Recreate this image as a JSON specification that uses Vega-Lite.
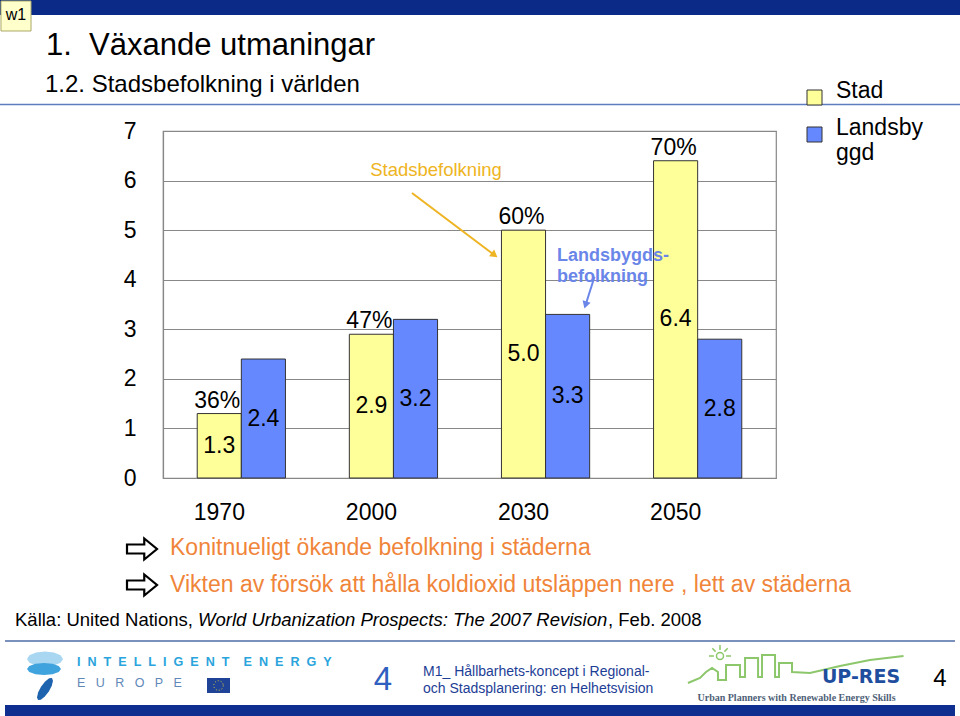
{
"$schema": "https://vega.github.io/schema/vega-lite/v6.json",
"width": 613, "height": 347,
"autosize": {"type": "none"},
"padding": {"left": 163, "top": 131, "right": 184, "bottom": 238},
"background": "#ffffff",
"config": {"font": "Liberation Sans", "view": {"stroke": "#888888", "strokeWidth": 1.2}},
"data": {"values": [
 {"year": "1970", "serie": "Stad", "value": 1.3, "pct": "36%"},
 {"year": "1970", "serie": "Landsbygd", "value": 2.4, "pct": ""},
 {"year": "2000", "serie": "Stad", "value": 2.9, "pct": "47%"},
 {"year": "2000", "serie": "Landsbygd", "value": 3.2, "pct": ""},
 {"year": "2030", "serie": "Stad", "value": 5.0, "pct": "60%"},
 {"year": "2030", "serie": "Landsbygd", "value": 3.3, "pct": ""},
 {"year": "2050", "serie": "Stad", "value": 6.4, "pct": "70%"},
 {"year": "2050", "serie": "Landsbygd", "value": 2.8, "pct": ""}
]},
"resolve": {"scale": {"x": "independent", "y": "independent"}},
"layer": [
 {"mark": {"type": "bar", "stroke": "#333333", "strokeWidth": 1},
  "encoding": {
   "x": {"field": "year", "type": "nominal", "scale": {"type": "band", "domain": ["1970", "2000", "2030", "2050"], "paddingInner": 0.42, "paddingOuter": 0.225},
         "axis": {"title": null, "labelAngle": 0, "ticks": false, "tickSize": 0, "labelPadding": 23, "labelOffset": -22, "labelFontSize": 23, "labelColor": "#000000", "domainColor": "#888888", "domainWidth": 1.2, "grid": false}},
   "xOffset": {"field": "serie", "type": "nominal", "scale": {"domain": ["Stad", "Landsbygd"], "paddingInner": 0, "paddingOuter": 0}},
   "y": {"field": "value", "type": "quantitative", "scale": {"domain": [0, 7], "nice": false},
         "axis": {"title": null, "values": [0, 1, 2, 3, 4, 5, 6, 7], "ticks": false, "tickSize": 0, "labelPadding": 27, "labelFontSize": 23, "labelColor": "#000000", "domainColor": "#888888", "domainWidth": 1.2, "grid": true, "gridColor": "#888888", "gridWidth": 1.2, "gridOpacity": 1}},
   "color": {"field": "serie", "type": "nominal", "scale": {"domain": ["Stad", "Landsbygd"], "range": ["#FFFF99", "#6688FF"]},
         "legend": {"title": null, "orient": "none", "legendX": 640, "legendY": -45, "gridAlign": "none", "symbolType": "square", "symbolSize": 225, "symbolStrokeWidth": 1, "labelFontSize": 23, "labelColor": "#000000", "labelOffset": 10, "rowPadding": 9, "labelLimit": 200, "labelBaseline": "alphabetic",
                    "labelExpr": "datum.label == 'Landsbygd' ? ['Landsby', 'ggd'] : datum.label",
                    "encode": {"labels": {"update": {"dy": {"value": 6}, "lineHeight": {"value": 26}}}}}}
  }},
 {"mark": {"type": "text", "fontSize": 23, "color": "#000000", "baseline": "middle"},
  "encoding": {
   "x": {"field": "year", "type": "nominal", "scale": {"type": "band", "domain": ["1970", "2000", "2030", "2050"], "paddingInner": 0.42, "paddingOuter": 0.225}, "axis": null},
   "xOffset": {"field": "serie", "type": "nominal", "scale": {"domain": ["Stad", "Landsbygd"], "paddingInner": 0, "paddingOuter": 0}},
   "y": {"field": "value", "type": "quantitative", "scale": {"domain": [0, 14], "nice": false}, "axis": null},
   "text": {"field": "value", "type": "quantitative", "format": ".1f"}
  }},
 {"transform": [{"filter": "datum.serie == 'Stad'"}],
  "mark": {"type": "text", "fontSize": 23, "color": "#000000", "baseline": "alphabetic", "dy": -6, "dx": -2},
  "encoding": {
   "x": {"field": "year", "type": "nominal", "scale": {"type": "band", "domain": ["1970", "2000", "2030", "2050"], "paddingInner": 0.42, "paddingOuter": 0.225}, "axis": null},
   "xOffset": {"field": "serie", "type": "nominal", "scale": {"domain": ["Stad", "Landsbygd"], "paddingInner": 0, "paddingOuter": 0}},
   "y": {"field": "value", "type": "quantitative", "scale": {"domain": [0, 7], "nice": false}, "axis": null},
   "text": {"field": "pct", "type": "nominal"}
  }},

 {"data": {"values": [{}]}, "mark": {"type": "rect", "fill": "#0B2A88"},
  "encoding": {"x": {"datum": -1.5636, "type": "quantitative", "scale": {"domain": [-0.5, 3.5], "nice": false, "zero": false}, "axis": null}, "x2": {"datum": 4.7007},
               "y": {"datum": 9.643, "type": "quantitative", "scale": {"domain": [0, 7], "nice": false, "zero": false}, "axis": null}, "y2": {"datum": 9.34}}},
 {"data": {"values": [{}]}, "mark": {"type": "rule", "stroke": "#5D7DBF", "strokeWidth": 1.5},
  "encoding": {"x": {"datum": -1.5636, "type": "quantitative", "scale": {"domain": [-0.5, 3.5], "nice": false, "zero": false}, "axis": null}, "x2": {"datum": 4.7007},
               "y": {"datum": 7.5346, "type": "quantitative", "scale": {"domain": [0, 7], "nice": false, "zero": false}, "axis": null}, "y2": {"datum": 7.5346}}},
 {"data": {"values": [{}]}, "mark": {"type": "rect", "fill": "#FFFFCC", "stroke": "#A8A86A", "strokeWidth": 1},
  "encoding": {"x": {"datum": -1.5571, "type": "quantitative", "scale": {"domain": [-0.5, 3.5], "nice": false, "zero": false}, "axis": null}, "x2": {"datum": -1.3613},
               "y": {"datum": 9.6227, "type": "quantitative", "scale": {"domain": [0, 7], "nice": false, "zero": false}, "axis": null}, "y2": {"datum": 9.0174}}},
 {"data": {"values": [{}]}, "mark": {"type": "text", "text": "w1", "fontSize": 16, "align": "center", "baseline": "middle", "color": "#000000"},
  "encoding": {"x": {"datum": -1.4592, "type": "quantitative", "scale": {"domain": [-0.5, 3.5], "nice": false, "zero": false}, "axis": null},
               "y": {"datum": 9.34, "type": "quantitative", "scale": {"domain": [0, 7], "nice": false, "zero": false}, "axis": null}}},
 {"data": {"values": [{}]}, "mark": {"type": "text", "text": "1.\u00a0\u00a0Växande utmaningar", "fontSize": 31, "align": "left", "baseline": "alphabetic", "color": "#000000"},
  "encoding": {"x": {"datum": -1.2635, "type": "quantitative", "scale": {"domain": [-0.5, 3.5], "nice": false, "zero": false}, "axis": null},
               "y": {"datum": 8.533, "type": "quantitative", "scale": {"domain": [0, 7], "nice": false, "zero": false}, "axis": null}}},
 {"data": {"values": [{}]}, "mark": {"type": "text", "text": "1.2. Stadsbefolkning i världen", "fontSize": 24, "align": "left", "baseline": "alphabetic", "color": "#000000"},
  "encoding": {"x": {"datum": -1.27, "type": "quantitative", "scale": {"domain": [-0.5, 3.5], "nice": false, "zero": false}, "axis": null},
               "y": {"datum": 7.787, "type": "quantitative", "scale": {"domain": [0, 7], "nice": false, "zero": false}, "axis": null}}},

 {"data": {"values": [{}]}, "mark": {"type": "text", "text": "Stadsbefolkning", "fontSize": 18.5, "align": "center", "baseline": "middle", "color": "#EEB422"},
  "encoding": {"x": {"datum": 1.2814, "type": "quantitative", "scale": {"domain": [-0.5, 3.5], "nice": false, "zero": false}, "axis": null},
               "y": {"datum": 6.213, "type": "quantitative", "scale": {"domain": [0, 7], "nice": false, "zero": false}, "axis": null}}},
 {"data": {"values": [{}]}, "mark": {"type": "rule", "stroke": "#EEB422", "strokeWidth": 2},
  "encoding": {"x": {"datum": 1.1248, "type": "quantitative", "scale": {"domain": [-0.5, 3.5], "nice": false, "zero": false}, "axis": null}, "x2": {"datum": 1.6533},
               "y": {"datum": 5.749, "type": "quantitative", "scale": {"domain": [0, 7], "nice": false, "zero": false}, "axis": null}, "y2": {"datum": 4.5188}}},
 {"data": {"values": [{}]}, "mark": {"type": "point", "shape": "triangle-up", "filled": true, "color": "#EEB422", "size": 70, "angle": 127, "opacity": 1},
  "encoding": {"x": {"datum": 1.6631, "type": "quantitative", "scale": {"domain": [-0.5, 3.5], "nice": false, "zero": false}, "axis": null},
               "y": {"datum": 4.4986, "type": "quantitative", "scale": {"domain": [0, 7], "nice": false, "zero": false}, "axis": null}}},
 {"data": {"values": [{}]}, "mark": {"type": "text", "text": ["Landsbygds-", "befolkning"], "fontSize": 18, "fontWeight": "bold", "lineHeight": 21, "align": "left", "baseline": "middle", "color": "#6A86E8"},
  "encoding": {"x": {"datum": 2.071, "type": "quantitative", "scale": {"domain": [-0.5, 3.5], "nice": false, "zero": false}, "axis": null},
               "y": {"datum": 4.4785, "type": "quantitative", "scale": {"domain": [0, 7], "nice": false, "zero": false}, "axis": null}}},
 {"data": {"values": [{}]}, "mark": {"type": "rule", "stroke": "#6A86E8", "strokeWidth": 2},
  "encoding": {"x": {"datum": 2.3157, "type": "quantitative", "scale": {"domain": [-0.5, 3.5], "nice": false, "zero": false}, "axis": null}, "x2": {"datum": 2.2635},
               "y": {"datum": 4.0609, "type": "quantitative", "scale": {"domain": [0, 7], "nice": false, "zero": false}, "axis": null}, "y2": {"datum": 3.5505}}},
 {"data": {"values": [{}]}, "mark": {"type": "point", "shape": "triangle-up", "filled": true, "color": "#6A86E8", "size": 70, "angle": 197.5, "opacity": 1},
  "encoding": {"x": {"datum": 2.2569, "type": "quantitative", "scale": {"domain": [-0.5, 3.5], "nice": false, "zero": false}, "axis": null},
               "y": {"datum": 3.49, "type": "quantitative", "scale": {"domain": [0, 7], "nice": false, "zero": false}, "axis": null}}},

 {"data": {"values": [{}]}, "mark": {"type": "point", "shape": "M-1,-0.3 L0.15,-0.3 L0.15,-0.7 L1,0 L0.15,0.7 L0.15,0.3 L-1,0.3 Z", "size": 900, "filled": true, "fill": "#ffffff", "stroke": "#000000", "strokeWidth": 2.2, "opacity": 1},
  "encoding": {"x": {"datum": -0.637, "type": "quantitative", "scale": {"domain": [-0.5, 3.5], "nice": false, "zero": false}, "axis": null},
               "y": {"datum": -1.4323, "type": "quantitative", "scale": {"domain": [0, 7], "nice": false, "zero": false}, "axis": null}}},
 {"data": {"values": [{}]}, "mark": {"type": "point", "shape": "M-1,-0.3 L0.15,-0.3 L0.15,-0.7 L1,0 L0.15,0.7 L0.15,0.3 L-1,0.3 Z", "size": 900, "filled": true, "fill": "#ffffff", "stroke": "#000000", "strokeWidth": 2.2, "opacity": 1},
  "encoding": {"x": {"datum": -0.637, "type": "quantitative", "scale": {"domain": [-0.5, 3.5], "nice": false, "zero": false}, "axis": null},
               "y": {"datum": -2.1585, "type": "quantitative", "scale": {"domain": [0, 7], "nice": false, "zero": false}, "axis": null}}},
 {"data": {"values": [{}]}, "mark": {"type": "text", "text": "Konitnueligt ökande befolkning i städerna", "fontSize": 23, "align": "left", "baseline": "middle", "color": "#F0853A"},
  "encoding": {"x": {"datum": -0.4543, "type": "quantitative", "scale": {"domain": [-0.5, 3.5], "nice": false, "zero": false}, "axis": null},
               "y": {"datum": -1.412, "type": "quantitative", "scale": {"domain": [0, 7], "nice": false, "zero": false}, "axis": null}}},
 {"data": {"values": [{}]}, "mark": {"type": "text", "text": "Vikten av försök att hålla koldioxid utsläppen nere , lett av städerna", "fontSize": 23, "align": "left", "baseline": "middle", "color": "#F0853A"},
  "encoding": {"x": {"datum": -0.4543, "type": "quantitative", "scale": {"domain": [-0.5, 3.5], "nice": false, "zero": false}, "axis": null},
               "y": {"datum": -2.1585, "type": "quantitative", "scale": {"domain": [0, 7], "nice": false, "zero": false}, "axis": null}}},
 {"data": {"values": [{}]}, "mark": {"type": "text", "text": "Källa: United Nations,", "fontSize": 18.5, "align": "left", "baseline": "middle", "color": "#000000"},
  "encoding": {"x": {"datum": -1.4657, "type": "quantitative", "scale": {"domain": [-0.5, 3.5], "nice": false, "zero": false}, "axis": null},
               "y": {"datum": -2.8646, "type": "quantitative", "scale": {"domain": [0, 7], "nice": false, "zero": false}, "axis": null}}},
 {"data": {"values": [{}]}, "mark": {"type": "text", "text": "World Urbanization Prospects: The 2007 Revision", "fontSize": 18.5, "fontStyle": "italic", "align": "left", "baseline": "middle", "color": "#000000"},
  "encoding": {"x": {"datum": -0.2716, "type": "quantitative", "scale": {"domain": [-0.5, 3.5], "nice": false, "zero": false}, "axis": null},
               "y": {"datum": -2.8646, "type": "quantitative", "scale": {"domain": [0, 7], "nice": false, "zero": false}, "axis": null}}},
 {"data": {"values": [{}]}, "mark": {"type": "text", "text": ", Feb. 2008", "fontSize": 18.5, "align": "left", "baseline": "middle", "color": "#000000"},
  "encoding": {"x": {"datum": 2.4038, "type": "quantitative", "scale": {"domain": [-0.5, 3.5], "nice": false, "zero": false}, "axis": null},
               "y": {"datum": -2.8646, "type": "quantitative", "scale": {"domain": [0, 7], "nice": false, "zero": false}, "axis": null}}},

 {"data": {"values": [{}]}, "mark": {"type": "rule", "stroke": "#4E6CA8", "strokeWidth": 1.5},
  "encoding": {"x": {"datum": -1.531, "type": "quantitative", "scale": {"domain": [-0.5, 3.5], "nice": false, "zero": false}, "axis": null}, "x2": {"datum": 4.668},
               "y": {"datum": -3.2882, "type": "quantitative", "scale": {"domain": [0, 7], "nice": false, "zero": false}, "axis": null}, "y2": {"datum": -3.2882}}},
 {"data": {"values": [{}]}, "mark": {"type": "rect", "fill": "#0E2F8F"},
  "encoding": {"x": {"datum": -1.531, "type": "quantitative", "scale": {"domain": [-0.5, 3.5], "nice": false, "zero": false}, "axis": null}, "x2": {"datum": 4.668},
               "y": {"datum": -4.5793, "type": "quantitative", "scale": {"domain": [0, 7], "nice": false, "zero": false}, "axis": null}, "y2": {"datum": -4.8012}}},
 {"data": {"values": [{}]}, "mark": {"type": "point", "shape": "M1,0 L0.866,0.21 L0.5,0.364 L0,0.42 L-0.5,0.364 L-0.866,0.21 L-1,0 L-0.866,-0.21 L-0.5,-0.364 L0,-0.42 L0.5,-0.364 L0.866,-0.21 Z", "size": 1296, "filled": true, "color": "#A9D7F2", "opacity": 1},
  "encoding": {"x": {"datum": -1.27, "type": "quantitative", "scale": {"domain": [-0.5, 3.5], "nice": false, "zero": false}, "axis": null},
               "y": {"datum": -3.6513, "type": "quantitative", "scale": {"domain": [0, 7], "nice": false, "zero": false}, "axis": null}}},
 {"data": {"values": [{}]}, "mark": {"type": "point", "shape": "M1,0 L0.866,0.18 L0.5,0.312 L0,0.36 L-0.5,0.312 L-0.866,0.18 L-1,0 L-0.866,-0.18 L-0.5,-0.312 L0,-0.36 L0.5,-0.312 L0.866,-0.18 Z", "size": 1156, "filled": true, "color": "#3FA3DD", "opacity": 1},
  "encoding": {"x": {"datum": -1.2765, "type": "quantitative", "scale": {"domain": [-0.5, 3.5], "nice": false, "zero": false}, "axis": null},
               "y": {"datum": -3.853, "type": "quantitative", "scale": {"domain": [0, 7], "nice": false, "zero": false}, "axis": null}}},
 {"data": {"values": [{}]}, "mark": {"type": "point", "shape": "M1,0 L0.866,0.175 L0.5,0.303 L0,0.35 L-0.5,0.303 L-0.866,0.175 L-1,0 L-0.866,-0.175 L-0.5,-0.303 L0,-0.35 L0.5,-0.303 L0.866,-0.175 Z", "size": 676, "angle": 122.5, "filled": true, "color": "#1E63AE", "opacity": 1},
  "encoding": {"x": {"datum": -1.27, "type": "quantitative", "scale": {"domain": [-0.5, 3.5], "nice": false, "zero": false}, "axis": null},
               "y": {"datum": -4.2565, "type": "quantitative", "scale": {"domain": [0, 7], "nice": false, "zero": false}, "axis": null}}},
 {"data": {"values": [{}]}, "mark": {"type": "text", "text": "I\u00a0\u00a0N\u00a0\u00a0T\u00a0\u00a0E\u00a0\u00a0L\u00a0\u00a0L\u00a0\u00a0I\u00a0\u00a0G\u00a0\u00a0E\u00a0\u00a0N\u00a0\u00a0T\u00a0\u00a0\u00a0\u00a0E\u00a0\u00a0N\u00a0\u00a0E\u00a0\u00a0R\u00a0\u00a0G\u00a0\u00a0Y", "fontSize": 12.6, "fontWeight": "bold", "align": "left", "baseline": "middle", "color": "#2AA4DC"},
  "encoding": {"x": {"datum": -1.0612, "type": "quantitative", "scale": {"domain": [-0.5, 3.5], "nice": false, "zero": false}, "axis": null},
               "y": {"datum": -3.7118, "type": "quantitative", "scale": {"domain": [0, 7], "nice": false, "zero": false}, "axis": null}}},
 {"data": {"values": [{}]}, "mark": {"type": "text", "text": "E\u00a0\u00a0\u00a0U\u00a0\u00a0\u00a0R\u00a0\u00a0\u00a0O\u00a0\u00a0\u00a0P\u00a0\u00a0\u00a0E", "fontSize": 12.5, "align": "left", "baseline": "middle", "color": "#5F88B8"},
  "encoding": {"x": {"datum": -1.0612, "type": "quantitative", "scale": {"domain": [-0.5, 3.5], "nice": false, "zero": false}, "axis": null},
               "y": {"datum": -4.1355, "type": "quantitative", "scale": {"domain": [0, 7], "nice": false, "zero": false}, "axis": null}}},
 {"data": {"values": [{}]}, "mark": {"type": "rect", "fill": "#1F4396"},
  "encoding": {"x": {"datum": -0.2129, "type": "quantitative", "scale": {"domain": [-0.5, 3.5], "nice": false, "zero": false}, "axis": null}, "x2": {"datum": -0.0628},
               "y": {"datum": -4.0346, "type": "quantitative", "scale": {"domain": [0, 7], "nice": false, "zero": false}, "axis": null}, "y2": {"datum": -4.3372}}},
 {"data": {"values": [{}]}, "mark": {"type": "point", "shape": "circle", "size": 90, "filled": false, "stroke": "#E5CF3C", "strokeWidth": 1, "strokeDash": [1, 2], "opacity": 1},
  "encoding": {"x": {"datum": -0.1378, "type": "quantitative", "scale": {"domain": [-0.5, 3.5], "nice": false, "zero": false}, "axis": null},
               "y": {"datum": -4.186, "type": "quantitative", "scale": {"domain": [0, 7], "nice": false, "zero": false}, "axis": null}}},
 {"data": {"values": [{}]}, "mark": {"type": "text", "text": "4", "fontSize": 33, "align": "center", "baseline": "middle", "color": "#2F5FBF"},
  "encoding": {"x": {"datum": 0.9356, "type": "quantitative", "scale": {"domain": [-0.5, 3.5], "nice": false, "zero": false}, "axis": null},
               "y": {"datum": -4.075, "type": "quantitative", "scale": {"domain": [0, 7], "nice": false, "zero": false}, "axis": null}}},
 {"data": {"values": [{}]}, "mark": {"type": "text", "text": ["M1_ Hållbarhets-koncept i Regional-", "och Stadsplanering: en Helhetsvision"], "fontSize": 14, "lineHeight": 17, "align": "left", "baseline": "middle", "color": "#1D3E96"},
  "encoding": {"x": {"datum": 1.1966, "type": "quantitative", "scale": {"domain": [-0.5, 3.5], "nice": false, "zero": false}, "axis": null},
               "y": {"datum": -3.9035, "type": "quantitative", "scale": {"domain": [0, 7], "nice": false, "zero": false}, "axis": null}}},
 {"data": {"values": [{}]}, "mark": {"type": "point", "shape": "M-1.005,0.121 L-0.893,0.074 L-0.837,0.019 L-0.781,-0.019 L-0.726,0.019 L-0.726,0.093 L-0.651,0.093 L-0.651,-0.047 L-0.521,-0.047 L-0.521,0.065 L-0.474,0.065 L-0.474,-0.112 L-0.353,-0.112 L-0.353,0.065 L-0.316,0.065 L-0.316,-0.14 L-0.195,-0.14 L-0.195,0.065 L-0.158,0.065 L-0.158,-0.065 L-0.037,-0.065 L-0.037,0.019 L0.13,0.028 L0.409,-0.037 L0.688,-0.093 L1,-0.13", "size": 46225, "filled": false, "stroke": "#8DC76B", "strokeWidth": 2, "opacity": 1},
  "encoding": {"x": {"datum": 3.6305, "type": "quantitative", "scale": {"domain": [-0.5, 3.5], "nice": false, "zero": false}, "axis": null},
               "y": {"datum": -3.8732, "type": "quantitative", "scale": {"domain": [0, 7], "nice": false, "zero": false}, "axis": null}}},
 {"data": {"values": [{}]}, "mark": {"type": "point", "shape": "circle", "size": 50, "filled": false, "stroke": "#8DC76B", "strokeWidth": 1.5, "opacity": 1},
  "encoding": {"x": {"datum": 3.1346, "type": "quantitative", "scale": {"domain": [-0.5, 3.5], "nice": false, "zero": false}, "axis": null},
               "y": {"datum": -3.5908, "type": "quantitative", "scale": {"domain": [0, 7], "nice": false, "zero": false}, "axis": null}}},
 {"data": {"values": [{}]}, "mark": {"type": "point", "shape": "M-1,0 L-0.55,0 M0.55,0 L1,0 M0,-1 L0,-0.55 M-0.7,-0.7 L-0.4,-0.4 M0.7,-0.7 L0.4,-0.4", "size": 484, "filled": false, "stroke": "#8DC76B", "strokeWidth": 1.5, "opacity": 1},
  "encoding": {"x": {"datum": 3.1346, "type": "quantitative", "scale": {"domain": [-0.5, 3.5], "nice": false, "zero": false}, "axis": null},
               "y": {"datum": -3.5908, "type": "quantitative", "scale": {"domain": [0, 7], "nice": false, "zero": false}, "axis": null}}},
 {"data": {"values": [{}]}, "mark": {"type": "text", "text": "UP-RES", "font": "DejaVu Sans", "fontSize": 19, "fontWeight": "bold", "align": "center", "baseline": "middle", "color": "#1F4E9E"},
  "encoding": {"x": {"datum": 4.0546, "type": "quantitative", "scale": {"domain": [-0.5, 3.5], "nice": false, "zero": false}, "axis": null},
               "y": {"datum": -4.0144, "type": "quantitative", "scale": {"domain": [0, 7], "nice": false, "zero": false}, "axis": null}}},
 {"data": {"values": [{}]}, "mark": {"type": "text", "text": "Urban Planners with Renewable Energy Skills", "font": "Liberation Serif", "fontSize": 10, "fontWeight": "bold", "align": "center", "baseline": "middle", "color": "#4F5F78"},
  "encoding": {"x": {"datum": 3.6338, "type": "quantitative", "scale": {"domain": [-0.5, 3.5], "nice": false, "zero": false}, "axis": null},
               "y": {"datum": -4.438, "type": "quantitative", "scale": {"domain": [0, 7], "nice": false, "zero": false}, "axis": null}}},
 {"data": {"values": [{}]}, "mark": {"type": "text", "text": "4", "fontSize": 24, "align": "center", "baseline": "middle", "color": "#000000"},
  "encoding": {"x": {"datum": 4.5702, "type": "quantitative", "scale": {"domain": [-0.5, 3.5], "nice": false, "zero": false}, "axis": null},
               "y": {"datum": -4.0548, "type": "quantitative", "scale": {"domain": [0, 7], "nice": false, "zero": false}, "axis": null}}}
]
}
